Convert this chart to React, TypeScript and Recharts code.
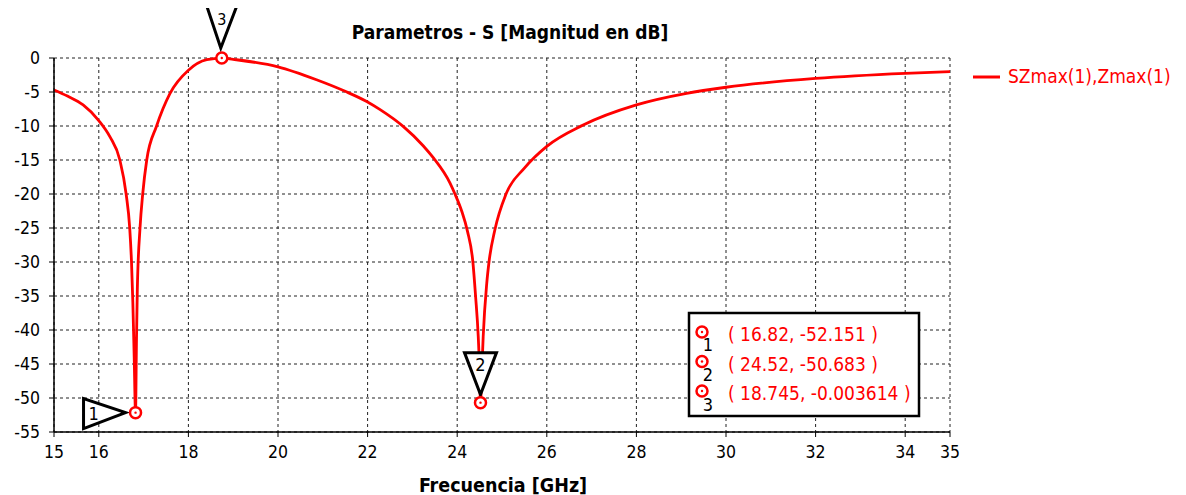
import React from 'react';
import { LineChart, Line, XAxis, YAxis, CartesianGrid, ReferenceDot } from 'recharts';

const freqGHz = [
  15.0, 15.3, 15.65, 16.0, 16.25, 16.47, 16.61, 16.69, 16.73, 16.76, 16.79, 16.82, 16.84, 16.86, 16.92, 16.98,
  17.07, 17.29, 17.59, 18.0, 18.41, 18.745, 19.0, 20.0, 20.86, 21.5, 21.98, 22.28, 22.8, 23.24, 23.47,
  23.84, 23.95, 24.1, 24.23, 24.35, 24.41, 24.47, 24.5, 24.52, 24.55, 24.58, 24.66, 24.71, 24.84, 25.09,
  25.5, 26.0, 26.8, 28.0, 29.12, 30.0, 32.0, 34.0, 35.0,
];
const magDb = [
  -4.7, -5.6, -6.9, -9.2, -11.6, -15.0, -20.0, -25.0, -30.0, -36.0, -44.0, -52.151, -42.0, -34.0, -25.0, -20.0,
  -15.0, -10.0, -5.2, -1.8, -0.25, -0.003614, -0.2, -1.3, -3.2, -4.9, -6.4, -7.6, -10.1, -12.9, -14.7,
  -18.4, -20.0, -22.5, -25.5, -30.0, -35.0, -41.0, -46.0, -50.683, -46.0, -41.0, -33.1, -30.0, -25.3, -20.0,
  -16.2, -13.0, -9.9, -6.9, -5.2, -4.3, -3.0, -2.25, -2.0,
];
const xTicks = [15, 16, 18, 20, 22, 24, 26, 28, 30, 32, 34, 35];
const yTicks = [0, -5, -10, -15, -20, -25, -30, -35, -40, -45, -50, -55];
const markerIds = ['1', '2', '3'];
const markerFreq = [16.82, 24.52, 18.745];
const markerMag = [-52.151, -50.683, -0.003614];
const markerText = ['( 16.82, -52.151 )', '( 24.52, -50.683 )', '( 18.745, -0.003614 )'];
const seriesName = 'SZmax(1),Zmax(1)';
const chartTitle = 'Parametros - S [Magnitud en dB]';
const xLabel = 'Frecuencia [GHz]';

const data = freqGHz.map((f, i) => ({ f, s: magDb[i] }));

const FONT = "Tahoma, 'DejaVu Sans Condensed', 'DejaVu Sans', sans-serif";
const RED = '#ff0000';

const MarkerCircle = ({ cx, cy }: { cx: number; cy: number }) => (
  <g>
    <circle cx={cx} cy={cy} r={5.5} fill="#fff" stroke={RED} strokeWidth={2.5} />
    <circle cx={cx} cy={cy} r={1.2} fill={RED} />
  </g>
);

const makeShape = (idx: number) => (props: any) => {
  const cx = props.cx as number;
  const cy = props.cy as number;
  const id = markerIds[idx];
  let tri: React.ReactNode = null;
  if (idx === 0) {
    tri = (
      <g>
        <polygon points={`${cx - 52},${cy - 14} ${cx - 52},${cy + 16} ${cx - 10},${cy}`} fill="#fff" stroke="#000" strokeWidth={3} strokeLinejoin="miter" />
        <text x={cx - 42} y={cy + 7} fontSize={18} fill="#000" textAnchor="middle" fontFamily={FONT}>{id}</text>
      </g>
    );
  } else if (idx === 1) {
    tri = (
      <g>
        <polygon points={`${cx - 16},${cy - 50} ${cx + 16},${cy - 50} ${cx},${cy - 8}`} fill="#fff" stroke="#000" strokeWidth={3} />
        <text x={cx} y={cy - 32} fontSize={18} fill="#000" textAnchor="middle" fontFamily={FONT}>{id}</text>
      </g>
    );
  } else {
    tri = (
      <g>
        <polyline points={`${cx - 15},${cy - 52} ${cx - 1},${cy - 10} ${cx + 15},${cy - 52}`} fill="none" stroke="#000" strokeWidth={3} />
        <text x={cx} y={cy - 33} fontSize={16} fill="#000" textAnchor="middle" fontFamily={FONT}>{id}</text>
      </g>
    );
  }
  return (
    <g>
      {tri}
      <MarkerCircle cx={cx} cy={cy} />
    </g>
  );
};

export default function App() {
  return (
    <div style={{ position: 'relative', width: 1170, height: 487, fontFamily: FONT }}>
      <LineChart
        width={1170}
        height={487}
        data={data}
        margin={{ top: 50, right: 228, bottom: 23, left: 6 }}
        style={{ fontFamily: FONT }}
      >
        <CartesianGrid stroke="#222" strokeDasharray="3 3" />
        <XAxis
          dataKey="f"
          type="number"
          domain={[15, 35]}
          ticks={xTicks}
          interval={0}
          height={40}
          tickSize={5}
          tickMargin={9}
          axisLine={{ stroke: '#000', strokeWidth: 1.5 }}
          tickLine={{ stroke: '#000' }}
          tick={{ fill: '#000', fontSize: 17.5, fontFamily: FONT }}
        />
        <XAxis
          xAxisId="top"
          dataKey="f"
          type="number"
          orientation="top"
          domain={[15, 35]}
          height={0}
          tick={false}
          tickLine={false}
          axisLine={{ stroke: '#000', strokeWidth: 1.5 }}
        />
        <YAxis
          type="number"
          domain={[-55, 0]}
          ticks={yTicks}
          interval={0}
          width={40}
          tickSize={5}
          tickMargin={9}
          axisLine={{ stroke: '#000', strokeWidth: 1.5 }}
          tickLine={{ stroke: '#000' }}
          tick={{ fill: '#000', fontSize: 17.5, fontFamily: FONT }}
        />
        <YAxis
          yAxisId="right"
          orientation="right"
          type="number"
          domain={[-55, 0]}
          width={0}
          tick={false}
          tickLine={false}
          axisLine={{ stroke: '#000', strokeWidth: 1.5 }}
        />
        <Line
          dataKey="s"
          type="monotone"
          stroke={RED}
          strokeWidth={2.8}
          dot={false}
          isAnimationActive={false}
        />
        {markerIds.map((id, i) => (
          <ReferenceDot
            key={id}
            x={markerFreq[i]}
            y={markerMag[i]}
            ifOverflow="visible"
            shape={makeShape(i)}
          />
        ))}
      </LineChart>
      <svg
        width={1170}
        height={487}
        style={{ position: 'absolute', left: 0, top: 0, pointerEvents: 'none', overflow: 'visible' }}
        fontFamily={FONT}
      >
        <text x={502} y={31} textAnchor="middle" fontSize={19} fontWeight="bold" fill="#000">{chartTitle}</text>
        <text x={495} y={484} textAnchor="middle" fontSize={19.5} fontWeight="bold" fill="#000">{xLabel}</text>
        <line x1={965} x2={992} y1={69} y2={69} stroke={RED} strokeWidth={3} />
        <text x={1000} y={75} fontSize={19} fill={RED}>{seriesName}</text>
        <rect x={681} y={305} width={230} height={103} fill="#fff" stroke="#000" strokeWidth={2.5} />
        {markerIds.map((id, i) => (
          <g key={id}>
            <MarkerCircle cx={694} cy={324 + i * 29.5} />
            <text x={700} y={343 + i * 30} fontSize={18} textAnchor="middle" fill="#000">{id}</text>
            <text x={720} y={333 + i * 29.5} fontSize={19} fill={RED}>{markerText[i]}</text>
          </g>
        ))}
      </svg>
    </div>
  );
}
